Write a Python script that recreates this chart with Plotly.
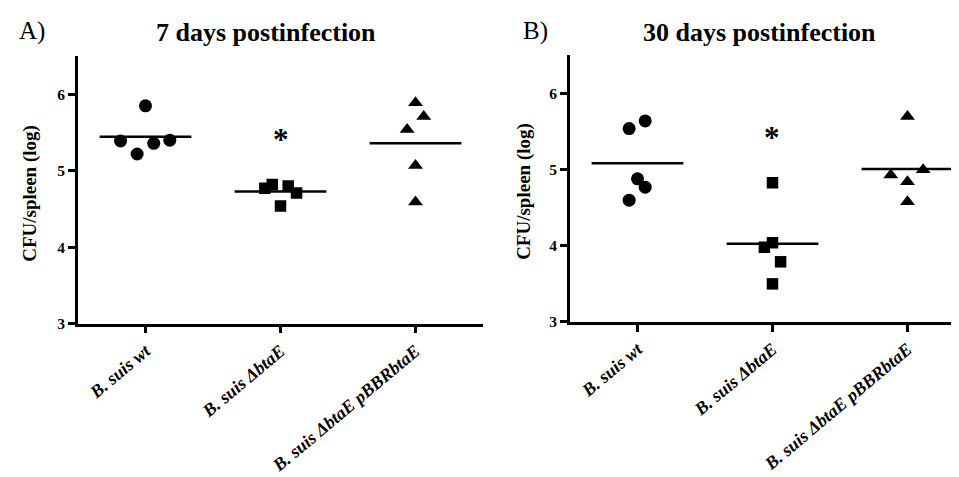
import numpy as np
import plotly.graph_objects as go

# ---- data ----
categories = ["B. suis wt", "B. suis ΔbtaE", "B. suis ΔbtaE pBBRbtaE"]
tick_labels = ["<b><i>B. suis wt</i></b>", "<b><i>B. suis ΔbtaE</i></b>", "<b><i>B. suis ΔbtaE pBBRbtaE</i></b>"]

day7_wt = [5.85, 5.39, 5.22, 5.36, 5.40]
day7_mut = [4.77, 4.82, 4.80, 4.71, 4.54]
day7_comp = [5.89, 5.71, 5.54, 5.07, 4.59]

day30_wt = [5.54, 5.64, 4.88, 4.77, 4.60]
day30_mut = [4.83, 4.04, 3.98, 3.79, 3.50]
day30_comp = [5.70, 4.93, 5.00, 4.84, 4.58]

asterisk_values = [5.40, 5.41]  # significance mark height for ΔbtaE group (7d, 30d)
y_ticks = [3, 4, 5, 6]

# ---- horizontal jitter used only for placing points (style) ----
jit7 = [[0, -0.185, -0.062, 0.061, 0.18],
        [-0.116, -0.061, 0.057, 0.119, 0.0],
        [0, 0.061, -0.062, 0, 0]]
jit30 = [[-0.062, 0.057, 0.0, 0.057, -0.062],
         [0, 0, -0.06, 0.06, 0],
         [0, -0.124, 0.116, 0, 0]]

symbols = ["circle", "square", "triangle-up"]
font_serif = "Liberation Serif, Times New Roman, serif"

fig = go.Figure()

panels = [
    ([day7_wt, day7_mut, day7_comp], jit7, "x", "y"),
    ([day30_wt, day30_mut, day30_comp], jit30, "x2", "y2"),
]

for groups, jit, xa, ya in panels:
    for i, vals in enumerate(groups):
        xs = [i + j for j in jit[i]]
        fig.add_trace(go.Scatter(
            x=xs, y=vals, mode="markers", xaxis=xa, yaxis=ya,
            marker=dict(symbol=symbols[i], color="black", size=13 if i != 1 else 11.5,
                        line=dict(width=0)),
            showlegend=False, hoverinfo="y"))
        m = float(np.mean(vals))
        fig.add_trace(go.Scatter(
            x=[i - 0.34, i + 0.34], y=[m, m], mode="lines", xaxis=xa, yaxis=ya,
            line=dict(color="black", width=2.5), showlegend=False, hoverinfo="skip"))

axis_common = dict(showline=True, linecolor="black", linewidth=2.7, ticks="outside",
                   ticklen=7, tickwidth=2.7, tickcolor="black", showgrid=False,
                   zeroline=False)
yfont = dict(family=font_serif, size=15.5, color="black")
xfont = dict(family=font_serif, size=18, color="black")

fig.update_layout(
    width=959, height=477,
    margin=dict(l=0, r=0, t=0, b=0),
    paper_bgcolor="white", plot_bgcolor="white",
    xaxis=dict(domain=[70 / 959, 475 / 959], range=[-0.5, 2.5], tickvals=[0, 1, 2],
               ticktext=tick_labels, tickangle=-40, anchor="y", tickfont=xfont, **axis_common),
    yaxis=dict(domain=[(477 - 321) / 477, (477 - 49) / 477], range=[3, 6.5],
               tickvals=y_ticks, ticktext=[f"<b>{v}</b>" for v in y_ticks], anchor="x",
               tickfont=yfont, **axis_common),
    xaxis2=dict(domain=[562 / 959, 957 / 959], range=[-0.5, 2.426], tickvals=[0, 1, 2],
                ticktext=tick_labels, tickangle=-40, anchor="y2", tickfont=xfont, **axis_common),
    yaxis2=dict(domain=[(477 - 319.3) / 477, (477 - 48.3) / 477], range=[3, 6.5],
                tickvals=y_ticks, ticktext=[f"<b>{v}</b>" for v in y_ticks], anchor="x2",
                tickfont=yfont, **axis_common),
)

annotations = [
    dict(text="<b>7 days postinfection</b>", x=258 / 959, y=(477 - 25) / 477),
    dict(text="<b>30 days postinfection</b>", x=751 / 959, y=(477 - 25) / 477),
]
for a in annotations:
    a.update(xref="paper", yref="paper", showarrow=False, xanchor="center", yanchor="middle",
             font=dict(family=font_serif, size=26, color="black"))
fig.add_annotation(text="A)", xref="paper", yref="paper", x=9 / 959, y=(477 - 23) / 477,
                   xanchor="left", yanchor="middle", showarrow=False,
                   font=dict(family=font_serif, size=25, color="black"))
fig.add_annotation(text="B)", xref="paper", yref="paper", x=513 / 959, y=(477 - 23) / 477,
                   xanchor="left", yanchor="middle", showarrow=False,
                   font=dict(family=font_serif, size=25, color="black"))
for a in annotations:
    fig.add_annotation(**a)

fig.add_annotation(text="<b>CFU/spleen (log)</b>", xref="paper", yref="paper",
                   x=22 / 959, y=(477 - 189) / 477, textangle=-90, showarrow=False,
                   xanchor="center", yanchor="middle",
                   font=dict(family=font_serif, size=19, color="black"))
fig.add_annotation(text="<b>CFU/spleen (log)</b>", xref="paper", yref="paper",
                   x=516 / 959, y=(477 - 187) / 477, textangle=-90, showarrow=False,
                   xanchor="center", yanchor="middle",
                   font=dict(family=font_serif, size=19, color="black"))

fig.add_annotation(text="<b>*</b>", x=1, y=asterisk_values[0], xref="x", yref="y", showarrow=False,
                   font=dict(family=font_serif, size=31, color="black"), yshift=1)
fig.add_annotation(text="<b>*</b>", x=1, y=asterisk_values[1], xref="x2", yref="y2", showarrow=False,
                   font=dict(family=font_serif, size=31, color="black"), yshift=1)

fig.write_html("out.html")
